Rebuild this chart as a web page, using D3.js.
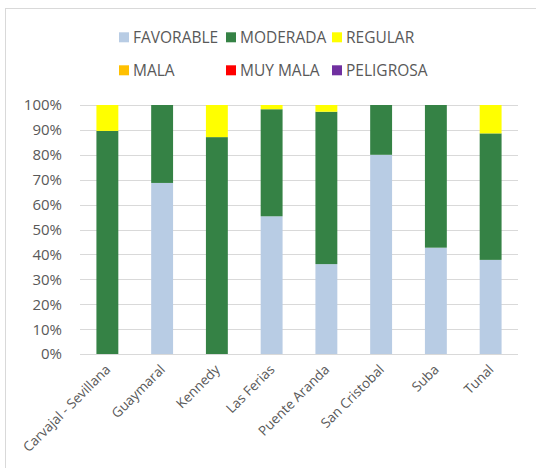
<!DOCTYPE html>
<html><head><meta charset="utf-8">
<script src="https://cdn.jsdelivr.net/npm/d3@7"></script>
<style>body{margin:0;background:#fff}svg{display:block}text{font-family:"Open Sans",sans-serif;fill:#595959}</style>
</head><body><svg id="c" width="536" height="468"></svg>
<script>
const categories = ["Carvajal - Sevillana","Guaymaral","Kennedy","Las Ferias","Puente Aranda","San Cristobal","Suba","Tunal"];
const seriesNames = ["FAVORABLE","MODERADA","REGULAR","MALA","MUY MALA","PELIGROSA"];
const seriesColors = ["#B8CCE4","#358245","#FFFF00","#FFC000","#FF0000","#7030A0"];
const favorable = [0, 68.7, 0, 55.3, 36.1, 80.0, 42.7, 37.8];
const moderada  = [89.6, 31.3, 87.1, 43.0, 61.2, 20.0, 57.3, 50.8];
const regular   = [10.4, 0, 12.9, 1.7, 2.7, 0, 0, 11.4];
const mala      = [0,0,0,0,0,0,0,0];
const muyMala   = [0,0,0,0,0,0,0,0];
const peligrosa = [0,0,0,0,0,0,0,0];
const yTicks = [0,10,20,30,40,50,60,70,80,90,100];

const svg = d3.select("#c");
svg.append("rect").attr("x",5.5).attr("y",8.5).attr("width",600).attr("height",600)
  .attr("fill","#fff").attr("stroke","#d9d9d9");

const rows = categories.map((c,i)=>({cat:c, FAVORABLE:favorable[i], MODERADA:moderada[i], REGULAR:regular[i], MALA:mala[i], "MUY MALA":muyMala[i], PELIGROSA:peligrosa[i]}));
const stack = d3.stack().keys(seriesNames)(rows);

const x = d3.scaleBand().domain(categories).range([80,518]).paddingInner(0.6).paddingOuter(0.3);
const y = d3.scaleLinear().domain([0,100]).range([354,105]);

svg.append("g").selectAll("line").data(yTicks).join("line")
  .attr("x1",80).attr("x2",518).attr("y1",d=>Math.round(y(d))+0.5).attr("y2",d=>Math.round(y(d))+0.5)
  .attr("stroke","#d9d9d9").attr("stroke-width",1);

svg.append("g").selectAll("text").data(yTicks).join("text")
  .attr("x",62).attr("y",d=>y(d)).attr("dy","0.36em").attr("text-anchor","end")
  .style("font-size","15px").text(d=>d+"%");

svg.append("g").selectAll("g").data(stack).join("g")
  .attr("fill",(d,i)=>seriesColors[i])
  .selectAll("rect").data(d=>d).join("rect")
  .attr("x",d=>x(d.data.cat)).attr("width",x.bandwidth())
  .attr("y",d=>y(d[1])).attr("height",d=>Math.max(0,y(d[0])-y(d[1])));

svg.append("g").selectAll("text").data(categories).join("text")
  .attr("transform",d=>`translate(${x(d)+x.bandwidth()/2+0.5},${367}) rotate(-45)`)
  .attr("text-anchor","end").attr("dy","0.35em")
  .style("font-size","13.5px").text(d=>d);

const legX = [119,226,332], legY = [32.3,65.3];
const leg = svg.append("g").selectAll("g").data(seriesNames).join("g")
  .attr("transform",(d,i)=>`translate(${legX[i%3]},${legY[Math.floor(i/3)]})`);
leg.append("rect").attr("width",10).attr("height",10).attr("fill",(d,i)=>seriesColors[i]);
leg.append("text").attr("x",14).attr("y",5).attr("dy","0.36em").style("font-size","15.5px").text(d=>d);
</script></body></html>
